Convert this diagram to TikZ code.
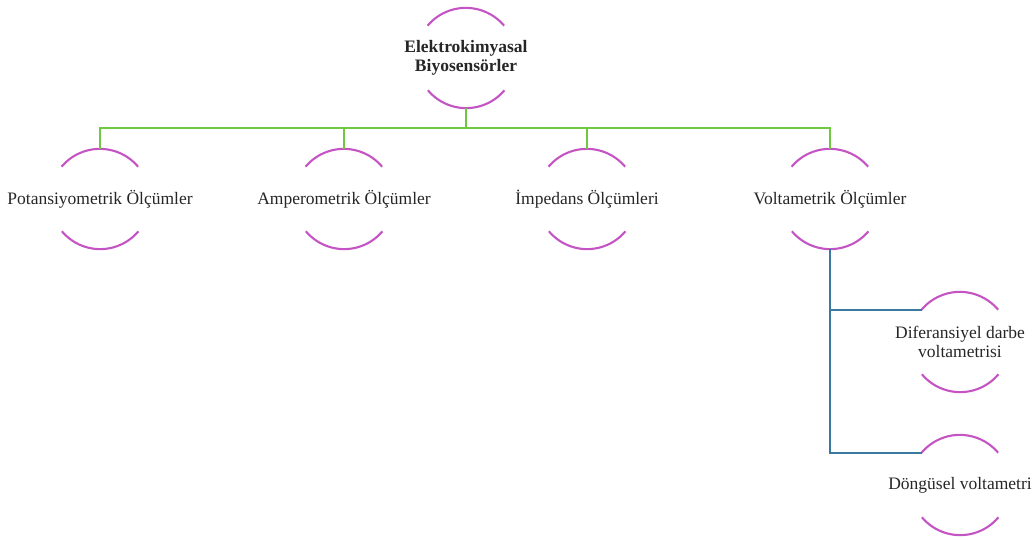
\documentclass[tikz,border=0pt]{standalone}
\usepackage{fontspec}
\setmainfont{Liberation Serif}
\definecolor{arcpink}{RGB}{196,84,196}
\definecolor{linkgreen}{RGB}{112,200,64}
\definecolor{linkblue}{RGB}{58,122,160}
\begin{document}
\begin{tikzpicture}[x=1pt,y=1pt,
    ring/.style={circle,minimum size=100pt,inner sep=0pt},
    txt/.style={text=black!85,font=\fontsize{17.5}{19}\selectfont,align=center},
    arcline/.style={arcpink,line width=2.1pt},
    greenlink/.style={linkgreen,line width=1.9pt},
    bluelink/.style={linkblue,line width=1.9pt}]
  \useasboundingbox (0,0) rectangle (1035,-540);
  \node[ring,label={[txt,font=\bfseries\fontsize{17.5}{19}\selectfont]center:Elektrokimyasal\\Biyosensörler}] (top) at (466,-58) {};
  \node[ring,label={[txt]center:Potansiyometrik Ölçümler}] (pot) at (100,-199) {};
  \node[ring,label={[txt]center:Amperometrik Ölçümler}] (amp) at (344,-199) {};
  \node[ring,label={[txt]center:İmpedans Ölçümleri}] (imp) at (587,-199) {};
  \node[ring,label={[txt]center:Voltametrik Ölçümler}] (volt) at (830,-199) {};
  \node[ring,label={[txt]center:Diferansiyel darbe\\voltametrisi}] (dif) at (960,-342) {};
  \node[ring,label={[txt]center:Döngüsel voltametri}] (don) at (960,-485) {};
  \foreach \n in {top,pot,amp,imp,volt,dif,don}
    \draw[arcline] (\n.140) arc (140:40:50pt) (\n.-40) arc (-40:-140:50pt);
  \coordinate (bus) at (466,-128);
  \begin{scope}[greenlink]
    \draw (top.south) -- (bus);
    \draw (bus) -| (pot.north);
    \draw (bus) -| (amp.north);
    \draw (bus) -| (imp.north);
    \draw (bus) -| (volt.north);
  \end{scope}
  \begin{scope}[bluelink]
    \draw (volt.south) |- (dif.140);
    \draw (volt.south) |- (don.140);
  \end{scope}
\end{tikzpicture}
\end{document}
